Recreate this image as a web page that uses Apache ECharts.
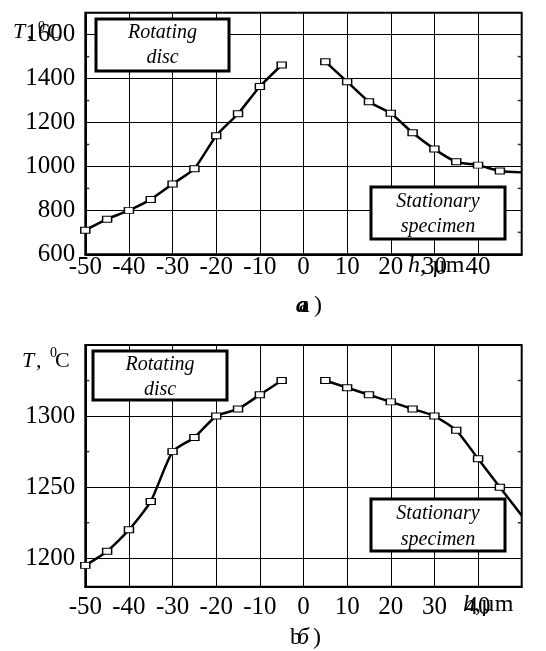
<!DOCTYPE html>
<html><head><meta charset="utf-8">
<script src="https://cdn.jsdelivr.net/npm/echarts@6/dist/echarts.min.js"></script>
<style>html,body{margin:0;padding:0;background:#fff}#c{width:546px;height:651px}</style>
</head><body><div id="c"></div>
<script>
// ---- data ----
const discX = [-50, -45, -40, -35, -30, -25, -20, -15, -10, -5];
const specX = [5, 10, 15, 20, 25, 30, 35, 40, 45, 50];
const discTTop = [710, 760, 800, 850, 920, 990, 1140, 1240, 1364, 1462];
const specTTop = [1477, 1386, 1295, 1242, 1153, 1079, 1021, 1006, 979, 973];
const discTBot = [1195, 1205, 1220, 1240, 1275, 1285, 1300, 1305, 1315, 1325];
const specTBot = [1325, 1320, 1315, 1310, 1305, 1300, 1290, 1270, 1250, 1230];
const xTickLabels = [-50, -40, -30, -20, -10, 0, 10, 20, 30, 40];
const yTickLabelsTop = [600, 800, 1000, 1200, 1400, 1600];
const yTickLabelsBot = [1200, 1250, 1300];
const yGridBot = [1200, 1250, 1300];
const yMinorTop = [700, 900, 1100, 1300, 1500];
const yMinorBot = [1225, 1275, 1325];

const FONT = 'Liberation Serif';
const LSIZE = 25;

function xAxis(gi, margin) {
  return {
    gridIndex: gi, type: 'value', min: -50, max: 50, interval: 10,
    axisLine: { show: true, onZero: false, lineStyle: { color: '#000', width: 2 } },
    axisTick: { show: false },
    splitLine: { show: true, lineStyle: { color: '#000', width: 1 } },
    axisLabel: {
      fontFamily: FONT, fontSize: LSIZE, color: '#000', margin: margin,
      showMinLabel: true, showMaxLabel: true,
      formatter: v => xTickLabels.includes(v) ? String(v) : ''
    }
  };
}
function yAxis(gi, min, max, interval, labels, split) {
  return {
    gridIndex: gi, type: 'value', min: min, max: max, interval: interval,
    axisLine: { show: true, onZero: false, lineStyle: { color: '#000', width: 2 } },
    axisTick: { show: false },
    splitLine: { show: split, lineStyle: { color: '#000', width: 1 } },
    axisLabel: { fontFamily: FONT, fontSize: LSIZE, color: '#000', margin: 10,
      showMinLabel: true, showMaxLabel: true,
      formatter: v => labels.includes(v) ? String(v) : '' }
  };
}
function lineSeries(xi, xs, ys, extra) {
  const data = xs.map((x, i) => {
    const d = { value: [x, ys[i]] };
    if (x === 50) d.symbol = 'none';
    return d;
  });
  return Object.assign({
    type: 'line', xAxisIndex: xi, yAxisIndex: xi, data: data,
    smooth: 0.2, symbol: 'rect', symbolSize: [9, 6], showAllSymbol: true,
    lineStyle: { color: '#000', width: 2.5 },
    itemStyle: { color: '#fff', borderColor: '#000', borderWidth: 1.2 },
    z: 5
  }, extra || {});
}
function tickSeries(xi, vals) {
  const data = [];
  vals.forEach(v => {
    data.push({ value: [-50, v], symbolOffset: [2, 0] });
    data.push({ value: [50, v], symbolOffset: [-2, 0] });
  });
  return {
    type: 'scatter', xAxisIndex: xi, yAxisIndex: xi, data: data, clip: false,
    symbol: 'rect', symbolSize: [4, 1.5], itemStyle: { color: '#000' }, silent: true, z: 4
  };
}
function txt(x, y, text, size, opts) {
  return {
    type: 'text', x: x, y: y, z: 100,
    style: Object.assign({
      text: text, font: (opts && opts.italic ? 'italic ' : '') + size + 'px "' + FONT + '"',
      fill: '#000', align: 'left', verticalAlign: 'middle'
    }, opts && opts.style || {})
  };
}
function box(x1, y1, x2, y2, l1, l2, c1, c2) {
  const cx = (x1 + x2) / 2;
  return [
    { type: 'rect', shape: { x: x1, y: y1, width: x2 - x1, height: y2 - y1 }, z: 90,
      style: { fill: '#fff', stroke: '#000', lineWidth: 3 } },
    txt(cx, c1, l1, 20, { italic: true, style: { align: 'center' } }),
    txt(cx, c2, l2, 20, { italic: true, style: { align: 'center' } })
  ];
}

const chart = echarts.init(document.getElementById('c'), null, { renderer: 'canvas' });
chart.setOption({
  animation: false,
  backgroundColor: '#fff',
  grid: [
    { left: 85.3, right: 24.3, top: 12.7, height: 241.6, show: true, borderColor: '#000', borderWidth: 2 },
    { left: 85.3, right: 24.3, top: 345, height: 241.7, show: true, borderColor: '#000', borderWidth: 2 }
  ],
  xAxis: [xAxis(0, 1), xAxis(1, 8)],
  yAxis: [
    yAxis(0, 600, 1700, 200, yTickLabelsTop, true),
    yAxis(1, 1180, 1350, 10, yTickLabelsBot, false)
  ],
  series: [
    lineSeries(0, discX, discTTop),
    lineSeries(0, specX, specTTop),
    lineSeries(1, discX, discTBot, {
      markLine: { silent: true, symbol: 'none', label: { show: false },
        lineStyle: { color: '#000', width: 1, type: 'solid' },
        data: yGridBot.map(v => ({ yAxis: v })) }
    }),
    lineSeries(1, specX, specTBot),
    tickSeries(0, yMinorTop),
    tickSeries(1, yMinorBot)
  ],
  graphic: [].concat(
    box(96, 19, 229, 71, 'Rotating', 'disc', 33, 58),
    box(371, 187, 505, 239, 'Stationary', 'specimen', 202, 227),
    box(93, 351, 227, 400, 'Rotating', 'disc', 365, 390),
    box(371, 499, 505, 551, 'Stationary', 'specimen', 514, 540),
    [
      // top y title
      txt(13, 32, 'T', 22, { italic: true }),
      txt(27, 32, ',', 22),
      txt(38, 27, '0', 14),
      txt(47, 32, 'C', 22),
      // bottom y title
      txt(22, 361, 'T', 22, { italic: true }),
      txt(36, 361, ',', 22),
      txt(50, 353, '0', 14),
      txt(55, 361, 'C', 22),
      // x titles
      txt(408, 266, 'h', 24, { italic: true }),
      txt(420, 266, ', µm', 24),
      txt(463, 605, 'h', 24, { italic: true }),
      txt(475, 605, ',µm', 24),
      // panel labels
      txt(296, 306, 'a', 24, { italic: true, style: { font: 'italic bold 24px "' + FONT + '"' } }),
      txt(299, 306, 'а', 24),
      txt(314, 306, ')', 24),
      txt(290, 638, 'b', 24),
      txt(297, 638, 'б', 24, { italic: true }),
      txt(313, 638, ')', 24)
    ]
  )
});
</script>
</body></html>
